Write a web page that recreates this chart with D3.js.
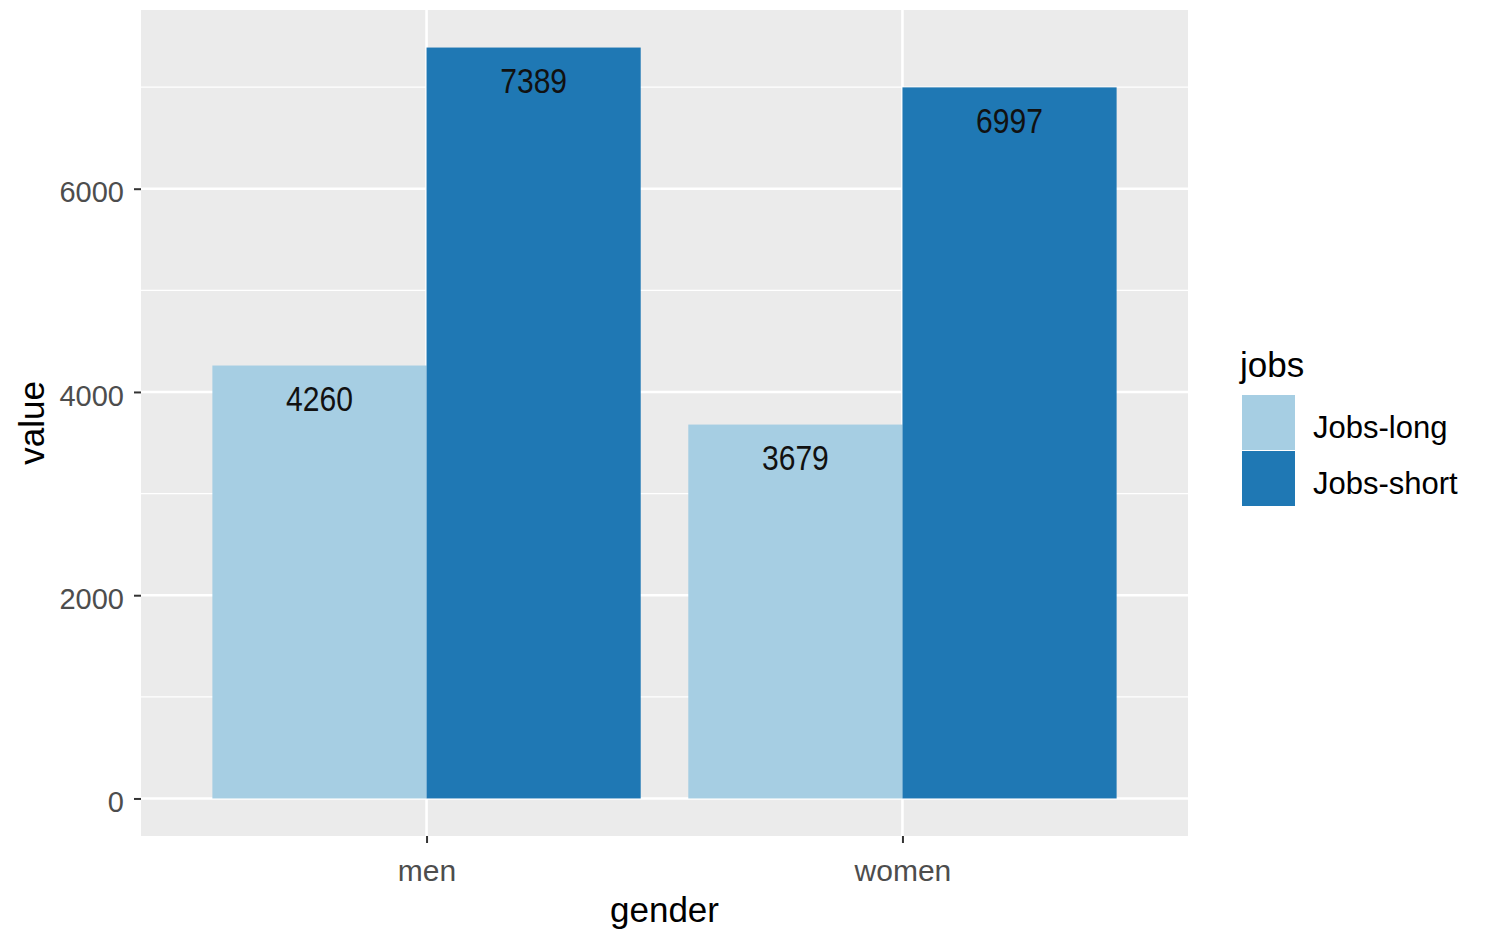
<!DOCTYPE html>
<html><head><meta charset="utf-8">
<script src="https://cdn.jsdelivr.net/npm/d3@7"></script>
<style>body{margin:0;background:#fff}svg{display:block}</style>
</head><body>
<script>
const genders = ["men", "women"];
const jobTypes = ["Jobs-long", "Jobs-short"];
const jobsLong = [4260, 3679];
const jobsShort = [7389, 6997];
const yTicks = [0, 2000, 4000, 6000];
const yMinor = [1000, 3000, 5000, 7000];
const colors = ["#a6cee3", "#1f78b4"];

const W = 1488, H = 930;
const panel = {left: 141, top: 10, right: 1188, bottom: 836};
const svg = d3.select("body").append("svg").attr("width", W).attr("height", H);

const rows = [];
genders.forEach((g, i) => {
  rows.push({gender: g, jobs: jobTypes[0], value: jobsLong[i]});
  rows.push({gender: g, jobs: jobTypes[1], value: jobsShort[i]});
});
const maxV = d3.max(rows, d => d.value);
const pad = maxV * 0.05;
const y = d3.scaleLinear().domain([-pad, maxV + pad]).range([panel.bottom, panel.top]);
const x = d3.scaleLinear().domain([0.4, genders.length + 0.6]).range([panel.left, panel.right]);
const color = d3.scaleOrdinal().domain(jobTypes).range(colors);

svg.append("rect").attr("x", panel.left).attr("y", panel.top)
  .attr("width", panel.right - panel.left).attr("height", panel.bottom - panel.top)
  .attr("fill", "#ebebeb");

const grid = svg.append("g");
grid.selectAll(".minor").data(yMinor).join("line")
  .attr("x1", panel.left).attr("x2", panel.right)
  .attr("y1", d => y(d)).attr("y2", d => y(d))
  .attr("stroke", "#fff").attr("stroke-width", 1.3);
grid.selectAll(".major").data(yTicks).join("line")
  .attr("x1", panel.left).attr("x2", panel.right)
  .attr("y1", d => y(d)).attr("y2", d => y(d))
  .attr("stroke", "#fff").attr("stroke-width", 2.6);
grid.selectAll(".vmajor").data(genders).join("line")
  .attr("x1", (d, i) => x(i + 1)).attr("x2", (d, i) => x(i + 1))
  .attr("y1", panel.top).attr("y2", panel.bottom)
  .attr("stroke", "#fff").attr("stroke-width", 2.6);

const dodgeW = 0.45;
const xPos = d => {
  const gi = genders.indexOf(d.gender) + 1;
  const ji = jobTypes.indexOf(d.jobs);
  return gi - 0.45 + ji * dodgeW;
};
svg.append("g").selectAll("rect").data(rows).join("rect")
  .attr("x", d => x(xPos(d)))
  .attr("width", d => x(xPos(d) + dodgeW) - x(xPos(d)))
  .attr("y", d => y(d.value))
  .attr("height", d => y(0) - y(d.value))
  .attr("fill", d => color(d.jobs));

svg.append("g").selectAll("text").data(rows).join("text")
  .attr("transform", d => `translate(${x(xPos(d) + dodgeW / 2)},${y(d.value) + 33}) scale(0.86,1)`)
  .attr("text-anchor", "middle").attr("dominant-baseline", "central")
  .attr("font-family", "'Liberation Sans', Arial, sans-serif")
  .attr("font-size", 35).attr("fill", "#111")
  .text(d => d.value);

// Y axis
const yAxis = svg.append("g").attr("transform", `translate(${panel.left},0)`)
  .call(d3.axisLeft(y).tickValues(yTicks).tickSize(7).tickPadding(10).tickFormat(d3.format("d")));
yAxis.select(".domain").remove();
yAxis.selectAll("line").attr("stroke", "#333").attr("stroke-width", 2);
yAxis.selectAll("text").attr("font-family", "'Liberation Sans', Arial, sans-serif")
  .attr("font-size", 29).attr("fill", "#4d4d4d").attr("dy", "0.45em");

// X axis
const xAxis = svg.append("g").attr("transform", `translate(0,${panel.bottom})`)
  .call(d3.axisBottom(x).tickValues(genders.map((g, i) => i + 1)).tickSize(7).tickPadding(17)
    .tickFormat(d => genders[d - 1]));
xAxis.select(".domain").remove();
xAxis.selectAll("line").attr("stroke", "#333").attr("stroke-width", 2);
xAxis.selectAll("text").attr("font-family", "'Liberation Sans', Arial, sans-serif")
  .attr("font-size", 30).attr("fill", "#4d4d4d");

// Axis titles
svg.append("text").attr("x", (panel.left + panel.right) / 2).attr("y", 922)
  .attr("text-anchor", "middle").attr("font-family", "'Liberation Sans', Arial, sans-serif")
  .attr("font-size", 35).attr("fill", "#000").text("gender");
svg.append("text").attr("transform", `translate(44,${(panel.top + panel.bottom) / 2}) rotate(-90)`)
  .attr("text-anchor", "middle").attr("font-family", "'Liberation Sans', Arial, sans-serif")
  .attr("font-size", 35).attr("fill", "#000").text("value");

// Legend
const leg = svg.append("g").attr("transform", "translate(1242,0)");
leg.append("text").attr("x", -2).attr("y", 377)
  .attr("font-family", "'Liberation Sans', Arial, sans-serif")
  .attr("font-size", 35).attr("fill", "#000").text("jobs");
const items = leg.selectAll(".item").data(jobTypes).join("g")
  .attr("transform", (d, i) => `translate(0,${395 + i * 56})`);
items.append("rect").attr("width", 53).attr("height", 55).attr("fill", d => color(d));
items.append("text").attr("x", 71).attr("y", 32).attr("dominant-baseline", "central")
  .attr("font-family", "'Liberation Sans', Arial, sans-serif")
  .attr("font-size", 31).attr("fill", "#000").text(d => d);
</script>
</body></html>
